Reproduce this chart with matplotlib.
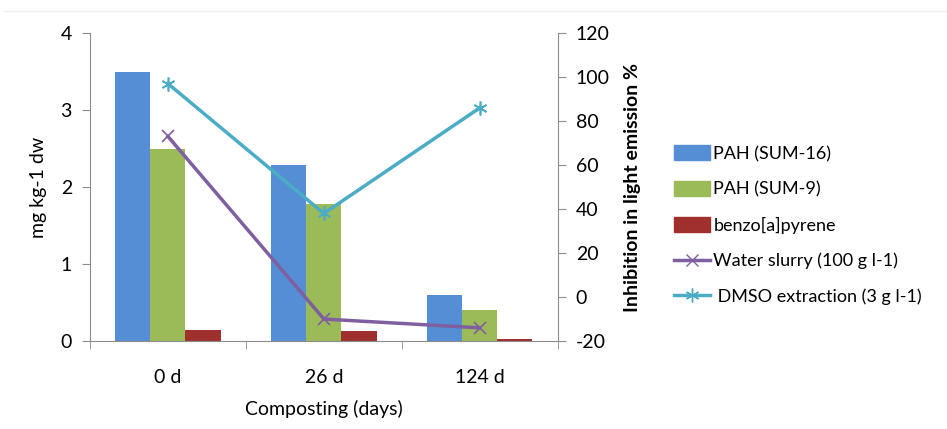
import numpy as np
import matplotlib.pyplot as plt
from matplotlib.lines import Line2D
from matplotlib.patches import Patch

plt.rcParams['font.family'] = ['Lato', 'DejaVu Sans']
plt.rcParams['axes.unicode_minus'] = False

categories = ['0 d', '26 d', '124 d']
pah16 = [3.5, 2.28, 0.6]
pah9 = [2.5, 1.78, 0.4]
bap = [0.15, 0.13, 0.03]
water_slurry = [73, -10, -14]
dmso = [97, 38, 86]

c_blue = '#558ED5'
c_green = '#9BBB59'
c_red = '#A0302E'
c_purple = '#7F5FA0'
c_cyan = '#4BACC6'
gray = '#8C8C8C'

fig = plt.figure(figsize=(9.47, 4.29), dpi=100)
ax = fig.add_axes([0.095, 0.205, 0.494, 0.718])
ax2 = ax.twinx()

x = np.arange(len(categories))
w = 0.225
ax.bar(x - w, pah16, w, color=c_blue)
ax.bar(x, pah9, w, color=c_green)
ax.bar(x + w, bap, w, color=c_red)

ax2.plot(x, water_slurry, color=c_purple, lw=2.5, marker='x', ms=9, mew=1.2)
ax2.plot(x, dmso, color=c_cyan, lw=2.5, marker=(6, 2, 0), ms=10, mew=1.2)

ax.set_xlim(-0.5, 2.5)
ax.set_ylim(0, 4)
ax.set_yticks([0, 1, 2, 3, 4])
ax2.set_ylim(-20, 120)
ax2.set_yticks(range(-20, 121, 20))

ax.set_xticks(x)
ax.set_xticklabels(categories)
ax.set_xticks([-0.5, 0.5, 1.5, 2.5], minor=True)
ax.tick_params(axis='x', which='major', length=0, pad=20, labelsize=14)
ax.tick_params(axis='x', which='minor', length=6, color=gray)
ax.tick_params(axis='y', length=6, color=gray, labelsize=14, pad=7)
ax2.tick_params(axis='y', length=6, color=gray, labelsize=14, pad=7)

for a in (ax, ax2):
    a.spines['top'].set_visible(False)
    for s in ('left', 'right', 'bottom'):
        a.spines[s].set_color(gray)
ax.spines['right'].set_visible(False)
ax2.spines['left'].set_visible(False)
ax2.spines['bottom'].set_visible(False)

ax.set_ylabel('mg kg-1 dw', fontsize=14, labelpad=10)
ax2.set_ylabel('Inhibition in light emission %', fontsize=14, fontweight='bold', labelpad=10)
ax.set_xlabel('Composting (days)', fontsize=14, labelpad=10)

handles = [
    Patch(color=c_blue, label='PAH (SUM-16)'),
    Patch(color=c_green, label='PAH (SUM-9)'),
    Patch(color=c_red, label='benzo[a]pyrene'),
    Line2D([], [], color=c_purple, lw=2.5, marker='x', ms=9, label='Water slurry (100 g l-1)'),
    Line2D([], [], color=c_cyan, lw=2.5, marker=(6, 2, 0), ms=10, label=' DMSO extraction (3 g l-1)'),
]
fig.legend(handles=handles, loc='center left', bbox_to_anchor=(0.698, 0.475), frameon=False,
           fontsize=13, handlelength=2.0, handleheight=0.9, handletextpad=0.2, labelspacing=1.05,
           borderpad=0.2)

fig.add_artist(Line2D([0.004, 1], [0.975, 0.975], color='#F0F0F0', lw=1))

fig.savefig('out.png', dpi=100)
